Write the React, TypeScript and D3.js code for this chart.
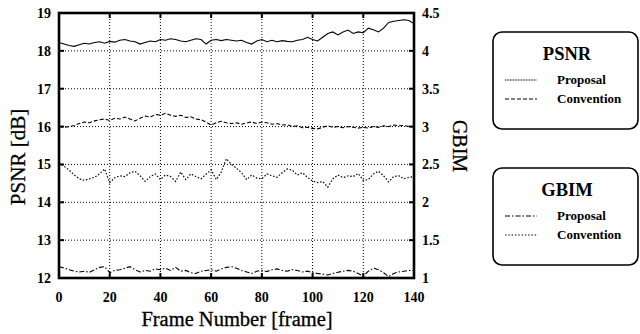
import React from "react";
import * as d3 from "d3";

const frames: number[] = d3.range(0, 141, 2);

const psnrProposal: number[] = [
  18.22, 18.18, 18.14, 18.12, 18.16, 18.2, 18.18, 18.22, 18.24, 18.2,
  18.25, 18.23, 18.28, 18.3, 18.26, 18.24, 18.18, 18.22, 18.26, 18.24,
  18.3, 18.28, 18.32, 18.3, 18.26, 18.24, 18.28, 18.32, 18.3, 18.18,
  18.28, 18.3, 18.27, 18.3, 18.28, 18.26, 18.28, 18.22, 18.18, 18.26,
  18.3, 18.24, 18.28, 18.24, 18.27, 18.25, 18.24, 18.28, 18.3, 18.36,
  18.3, 18.26, 18.36, 18.46, 18.5, 18.42, 18.5, 18.55, 18.46, 18.5,
  18.48, 18.6, 18.56, 18.5, 18.6, 18.75, 18.78, 18.8, 18.82, 18.8,
  18.72,
];

const psnrConvention: number[] = [
  16.0, 15.98, 16.0, 16.03, 16.08, 16.12, 16.1, 16.15, 16.18, 16.2,
  16.16, 16.22, 16.2, 16.25, 16.2, 16.15, 16.22, 16.28, 16.25, 16.32,
  16.3, 16.35, 16.3, 16.27, 16.3, 16.24, 16.26, 16.2, 16.18, 16.12,
  16.04, 16.1, 16.14, 16.1, 16.08, 16.1, 16.06, 16.1, 16.12, 16.08,
  16.12, 16.1, 16.06, 16.08, 16.04, 16.05, 16.0, 16.02, 15.97, 15.98,
  15.95, 15.94, 15.98, 16.02, 15.98, 16.0, 15.97, 16.0, 15.98, 15.96,
  15.98, 15.96, 16.0, 15.98, 16.02, 16.0, 16.04, 16.02, 16.03, 16.0,
  15.99,
];

const gbimProposal: number[] = [
  1.15, 1.13, 1.11, 1.09, 1.08, 1.09, 1.075, 1.11, 1.14, 1.15,
  1.07, 1.1, 1.11, 1.13, 1.15, 1.11, 1.08, 1.1, 1.09, 1.12,
  1.11, 1.13, 1.1, 1.14, 1.09, 1.1, 1.07, 1.06, 1.09, 1.1,
  1.11, 1.09, 1.12, 1.14, 1.15, 1.13, 1.1, 1.08, 1.06, 1.09,
  1.1, 1.085, 1.11, 1.12, 1.1, 1.09, 1.11, 1.1, 1.08, 1.09,
  1.07, 1.06, 1.05, 1.04, 1.06, 1.075, 1.09, 1.1, 1.09, 1.06,
  1.025, 1.09, 1.13, 1.11, 1.07, 1.02, 1.06, 1.08, 1.09, 1.1,
  1.1,
];

const gbimConvention: number[] = [
  2.525, 2.475, 2.425, 2.36, 2.31, 2.29, 2.31, 2.33, 2.375, 2.44,
  2.26, 2.325, 2.35, 2.34, 2.39, 2.41, 2.35, 2.275, 2.34, 2.375,
  2.3, 2.36, 2.34, 2.275, 2.4, 2.3, 2.375, 2.34, 2.31, 2.37,
  2.43, 2.3, 2.4, 2.575, 2.5, 2.45, 2.39, 2.3, 2.36, 2.32,
  2.31, 2.375, 2.35, 2.33, 2.39, 2.44, 2.425, 2.36, 2.39, 2.33,
  2.28, 2.26, 2.275, 2.2, 2.31, 2.36, 2.325, 2.35, 2.34, 2.38,
  2.29, 2.3, 2.375, 2.41, 2.35, 2.27, 2.34, 2.35, 2.31, 2.33,
  2.34,
];

const xTicks: number[] = [0, 20, 40, 60, 80, 100, 120, 140];
const leftTicks: number[] = [12, 13, 14, 15, 16, 17, 18, 19];
const rightTicks: number[] = [1, 1.5, 2, 2.5, 3, 3.5, 4, 4.5];

const psnrLegend: string[] = ["Proposal", "Convention"];
const gbimLegend: string[] = ["Proposal", "Convention"];

const serif = "Liberation Serif, DejaVu Serif, serif";

export default function App() {
  const L = 59, R = 414, T = 13, B = 278;
  const x = d3.scaleLinear().domain([0, 140]).range([L, R]);
  const yL = d3.scaleLinear().domain([12, 19]).range([B, T]);
  const yR = d3.scaleLinear().domain([1, 4.5]).range([B, T]);

  const lineL = d3
    .line<number>()
    .x((_, i) => x(frames[i]))
    .y((d) => yL(d));
  const lineR = d3
    .line<number>()
    .x((_, i) => x(frames[i]))
    .y((d) => yR(d));

  const series = [
    { d: lineL(psnrProposal), dash: "none", w: 1.1 },
    { d: lineL(psnrConvention), dash: "4,2", w: 1.1 },
    { d: lineR(gbimProposal), dash: "5,2,1.5,2", w: 1.1 },
    { d: lineR(gbimConvention), dash: "1.5,1.8", w: 1.2 },
  ];

  const legendBox = (
    top: number,
    title: string,
    labels: string[],
    dashes: string[]
  ) => (
    <g>
      <rect
        x={493}
        y={top}
        width={145}
        height={97}
        rx={9}
        ry={9}
        fill="white"
        stroke="black"
        strokeWidth={1.6}
      />
      <text
        x={567}
        y={top + 28}
        textAnchor="middle"
        fontFamily={serif}
        fontWeight="bold"
        fontSize={18.5}
      >
        {title}
      </text>
      {labels.map((lab, i) => (
        <g key={lab}>
          <line
            x1={505}
            x2={537}
            y1={top + 48 + i * 19}
            y2={top + 48 + i * 19}
            stroke="black"
            strokeWidth={1}
            strokeDasharray={dashes[i]}
          />
          <text
            x={557}
            y={top + 52 + i * 19}
            fontFamily={serif}
            fontWeight="bold"
            fontSize={13}
          >
            {lab}
          </text>
        </g>
      ))}
    </g>
  );

  return (
    <svg
      width={640}
      height={334}
      style={{ position: "absolute", left: 0, top: 0, background: "white" }}
    >
      <rect x={0} y={0} width={640} height={334} fill="white" />
      {xTicks.slice(1, -1).map((t) => (
        <line
          key={"gx" + t}
          x1={x(t)}
          x2={x(t)}
          y1={T}
          y2={B}
          stroke="black"
          strokeWidth={1}
          strokeDasharray="1,2"
        />
      ))}
      {leftTicks.slice(1, -1).map((t) => (
        <line
          key={"gy" + t}
          x1={L}
          x2={R}
          y1={yL(t)}
          y2={yL(t)}
          stroke="black"
          strokeWidth={1}
          strokeDasharray="1,2"
        />
      ))}
      {xTicks.slice(1, -1).map((t) => (
        <g key={"tx" + t}>
          <line x1={x(t)} x2={x(t)} y1={B} y2={B - 5} stroke="black" strokeWidth={2} />
          <line x1={x(t)} x2={x(t)} y1={T} y2={T + 5} stroke="black" strokeWidth={2} />
        </g>
      ))}
      {leftTicks.slice(1, -1).map((t) => (
        <g key={"ty" + t}>
          <line x1={L} x2={L + 5} y1={yL(t)} y2={yL(t)} stroke="black" strokeWidth={2} />
          <line x1={R} x2={R - 5} y1={yL(t)} y2={yL(t)} stroke="black" strokeWidth={2} />
        </g>
      ))}
      {series.map((s, i) => (
        <path
          key={i}
          d={s.d || ""}
          fill="none"
          stroke="black"
          strokeWidth={s.w}
          strokeDasharray={s.dash}
        />
      ))}
      <rect
        x={L}
        y={T}
        width={R - L}
        height={B - T}
        fill="none"
        stroke="black"
        strokeWidth={2.6}
      />
      {leftTicks.map((t) => (
        <text
          key={"ly" + t}
          x={51}
          y={yL(t) + 5}
          textAnchor="end"
          fontFamily={serif}
          fontWeight="bold"
          fontSize={14}
        >
          {t}
        </text>
      ))}
      {rightTicks.map((t) => (
        <text
          key={"ry" + t}
          x={422}
          y={yR(t) + 5}
          textAnchor="start"
          fontFamily={serif}
          fontWeight="bold"
          fontSize={14}
        >
          {t}
        </text>
      ))}
      {xTicks.map((t) => (
        <text
          key={"lx" + t}
          x={x(t)}
          y={302}
          textAnchor="middle"
          fontFamily={serif}
          fontWeight="bold"
          fontSize={14}
        >
          {t}
        </text>
      ))}
      <text
        x={237}
        y={326}
        textAnchor="middle"
        fontFamily={serif}
        fontSize={20.5}
        stroke="black"
        strokeWidth={0.3}
      >
        Frame Number [frame]
      </text>
      <text
        transform="translate(25,157) rotate(-90)"
        textAnchor="middle"
        fontFamily={serif}
        fontSize={21}
        stroke="black"
        strokeWidth={0.3}
      >
        PSNR [dB]
      </text>
      <text
        transform="translate(453,146) rotate(90)"
        textAnchor="middle"
        fontFamily={serif}
        fontSize={20}
        stroke="black"
        strokeWidth={0.3}
      >
        GBIM
      </text>
      {legendBox(32, "PSNR", psnrLegend, ["1,0.6", "4,2"])}
      {legendBox(168, "GBIM", gbimLegend, ["5,2,1.5,2", "1.5,1.8"])}
    </svg>
  );
}
